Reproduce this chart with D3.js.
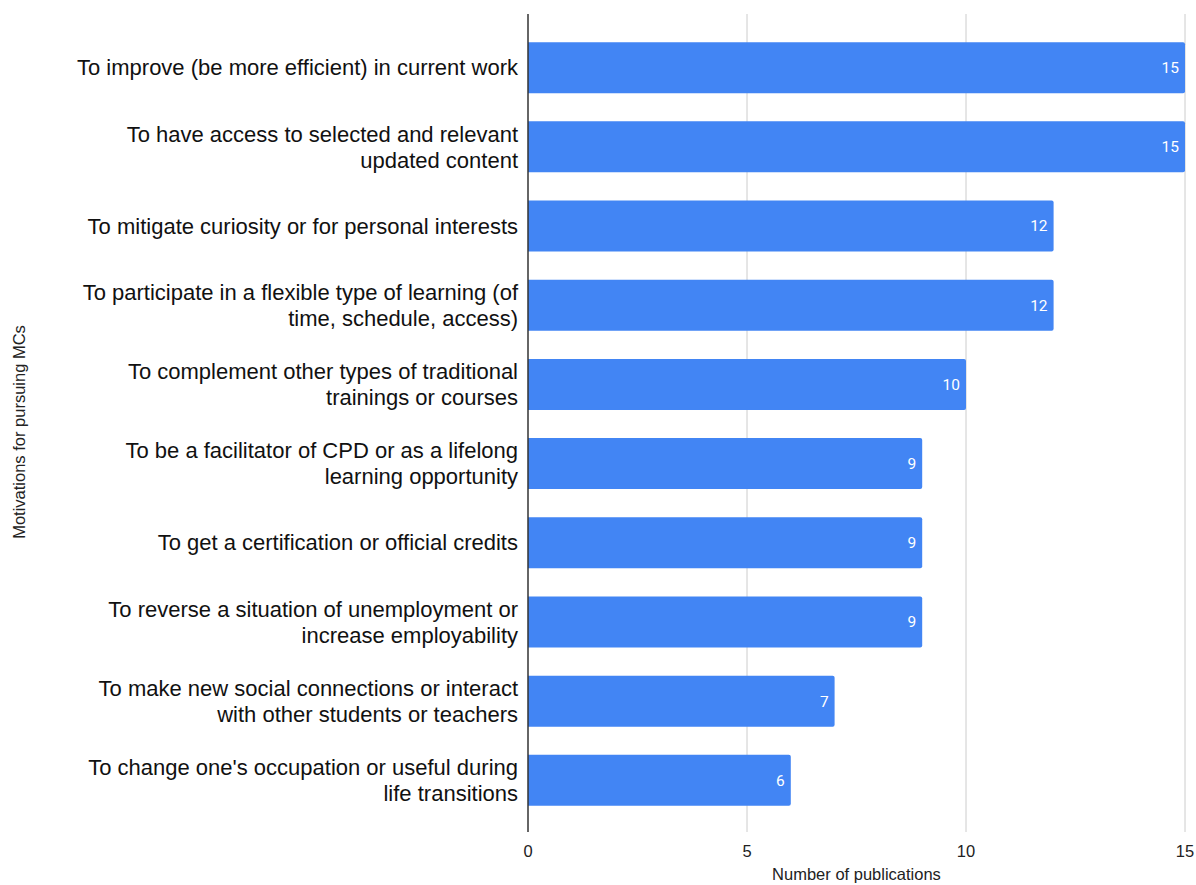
<!DOCTYPE html>
<html>
<head>
<meta charset="utf-8">
<script src="https://cdn.jsdelivr.net/npm/d3@7"></script>
<style>
  html, body { margin: 0; padding: 0; background: #fff; }
  svg { display: block; }
</style>
</head>
<body>
<svg id="chart" width="1196" height="885"></svg>
<script>
// Motivations (each entry split into its display lines)
const categories = [
  ["To improve (be more efficient) in current work"],
  ["To have access to selected and relevant", "updated content"],
  ["To mitigate curiosity or for personal interests"],
  ["To participate in a flexible type of learning (of", "time, schedule, access)"],
  ["To complement other types of traditional", "trainings or courses"],
  ["To be a facilitator of CPD or as a lifelong", "learning opportunity"],
  ["To get a certification or official credits"],
  ["To reverse a situation of unemployment or", "increase employability"],
  ["To make new social connections or interact", "with other students or teachers"],
  ["To change one's occupation or useful during", "life transitions"]
];
const publications = [15, 15, 12, 12, 10, 9, 9, 9, 7, 6];
const xTicks = [0, 5, 10, 15];
const xTitle = "Number of publications";
const yTitle = "Motivations for pursuing MCs";

const svg = d3.select("#chart");
const plotLeft = 528, plotRight = 1185, plotTop = 14, plotBottom = 832;

const x = d3.scaleLinear().domain([0, 15]).range([plotLeft, plotRight]);
const y = d3.scaleBand()
  .domain(d3.range(categories.length))
  .range([plotTop + 1, plotBottom + 1])
  .paddingInner(0.356)
  .paddingOuter(0.343);

// vertical gridlines
svg.append("g")
  .selectAll("line")
  .data(xTicks.filter(t => t > 0))
  .join("line")
  .attr("x1", d => x(d)).attr("x2", d => x(d))
  .attr("y1", plotTop).attr("y2", plotBottom)
  .attr("stroke", "#cccccc").attr("stroke-width", 1);

// bars
svg.append("g")
  .selectAll("path")
  .data(publications)
  .join("path")
  .attr("fill", "#4285f4")
  .attr("d", (d, i) => {
    const x0 = x(0), x1 = x(d), y0 = y(i), h = y.bandwidth(), r = 2;
    return `M${x0},${y0}H${x1 - r}Q${x1},${y0} ${x1},${y0 + r}V${y0 + h - r}Q${x1},${y0 + h} ${x1 - r},${y0 + h}H${x0}Z`;
  });

// value labels inside bar ends
svg.append("g")
  .selectAll("text")
  .data(publications)
  .join("text")
  .attr("x", d => x(d) - 6)
  .attr("y", (d, i) => y(i) + y.bandwidth() / 2)
  .attr("dy", "0.35em")
  .attr("text-anchor", "end")
  .attr("fill", "#ffffff")
  .attr("font-family", "Roboto, 'Noto Sans', sans-serif")
  .attr("font-size", 15.5)
  .text(d => d);

// baseline axis line
svg.append("line")
  .attr("x1", x(0)).attr("x2", x(0))
  .attr("y1", plotTop).attr("y2", plotBottom)
  .attr("stroke", "#333333").attr("stroke-width", 1.5);

// x tick labels
svg.append("g")
  .selectAll("text")
  .data(xTicks)
  .join("text")
  .attr("x", d => x(d))
  .attr("y", 857)
  .attr("text-anchor", "middle")
  .attr("fill", "#222222")
  .attr("font-family", "'Liberation Sans', Arial, sans-serif")
  .attr("font-size", 16.5)
  .text(d => d);

// category labels
const lineH = 26;
svg.append("g")
  .selectAll("text")
  .data(categories)
  .join("text")
  .attr("text-anchor", "end")
  .attr("fill", "#111111")
  .attr("font-family", "'Liberation Sans', Arial, sans-serif")
  .attr("font-size", 22)
  .each(function(lines, i) {
    const cy = y(i) + y.bandwidth() / 2;
    const startY = cy - (lines.length - 1) * lineH / 2;
    d3.select(this).selectAll("tspan")
      .data(lines)
      .join("tspan")
      .attr("x", 518)
      .attr("y", (l, j) => startY + j * lineH)
      .attr("dy", "0.35em")
      .text(l => l);
  });

// axis titles
svg.append("text")
  .attr("x", (plotLeft + plotRight) / 2)
  .attr("y", 880)
  .attr("text-anchor", "middle")
  .attr("fill", "#222222")
  .attr("font-family", "'Liberation Sans', Arial, sans-serif")
  .attr("font-size", 16.5)
  .text(xTitle);

svg.append("text")
  .attr("transform", `translate(25, 432) rotate(-90)`)
  .attr("text-anchor", "middle")
  .attr("fill", "#222222")
  .attr("font-family", "'Liberation Sans', Arial, sans-serif")
  .attr("font-size", 16.5)
  .text(yTitle);
</script>
</body>
</html>
